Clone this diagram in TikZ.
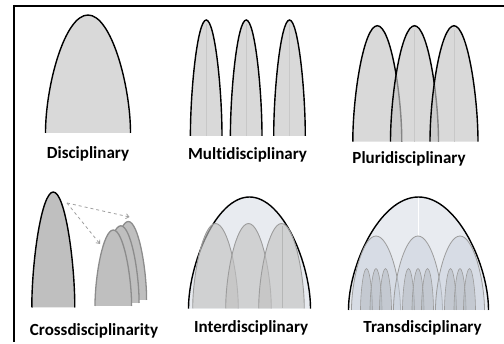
\documentclass[tikz,border=0pt]{standalone}
\usepackage{fontspec}
\setmainfont{Carlito}[Ligatures=NoCommon]
\usetikzlibrary{arrows.meta}
\definecolor{discfill}{HTML}{D9D9D9}
\definecolor{plurifill}{HTML}{C6C6C6}
\definecolor{crossfill}{HTML}{BFBFBF}
\definecolor{crossline}{HTML}{8C8C8C}
\definecolor{bigfill}{HTML}{E8EBF0}
\definecolor{innerfill}{HTML}{C2C2C2}
\definecolor{innerline}{HTML}{9C9C9C}
\definecolor{midfill}{rgb}{0.78,0.81,0.86}
\definecolor{smallfill}{rgb}{0.70,0.72,0.75}
\definecolor{centerline}{HTML}{C8C8C8}
\newcommand\archshape[5][]{%
  \draw[#1] ({#2-#3},#5) .. controls ({#2-#3},{#5-0.4*(#5-#4)}) and ({#2-0.55*#3},#4) .. (#2,#4)
    .. controls ({#2+0.55*#3},#4) and ({#2+#3},{#5-0.4*(#5-#4)}) .. ({#2+#3},#5);}
\tikzset{
  lbl/.style={anchor=base, font=\fontsize{17}{20}\selectfont\bfseries, inner sep=0pt},
  blackarch/.style={draw=black, line width=1.4pt, fill=discfill},
  pluriarch/.style={draw=black, line width=1.4pt, fill=plurifill, fill opacity=0.667},
  crossarch/.style={draw=crossline, line width=1.3pt, fill=crossfill},
  bigarch/.style={draw=black, line width=1.4pt, fill=bigfill},
  innerarch/.style={draw=innerline, line width=0.9pt, fill=innerfill, fill opacity=0.63},
  midarch/.style={draw=innerline, line width=0.8pt, fill=midfill, fill opacity=0.5},
  smallarch/.style={draw=innerline, line width=0.6pt, fill=smallfill, fill opacity=0.5},
  faint/.style={draw=centerline, line width=0.6pt},
  dasharrow/.style={draw=gray!75, dashed, line width=0.8pt, -{Straight Barb[length=3pt,width=5pt]}},
}
\begin{document}
\begin{tikzpicture}[x=1pt,y=-1pt]
\useasboundingbox (0,0) rectangle (504,344);
% frame
\draw[line width=2pt] (13,6) -- (504,6);
\draw[line width=2pt] (14,5) -- (14,342);

% Disciplinary
\archshape[blackarch]{88}{42.5}{15}{133}
\node[lbl] (disc) at (88,159) {Disciplinary};

% Multidisciplinary
\foreach \c in {206.2,246.2,289.5}{
  \archshape[blackarch]{\c}{15.8}{20}{136}
  \draw[faint] (\c,24) -- (\c,136);
}
\node[lbl] (multi) at (247.5,160) {Multidisciplinary};

% Pluridisciplinary
\archshape[pluriarch]{377.3}{24.5}{25.7}{141.7}
\archshape[pluriarch]{414.5}{24}{25.7}{141.7}
\draw[faint] (414.5,30) -- (414.5,141.7);
\archshape[pluriarch]{454}{24}{25.7}{141.7}
\draw[faint] (454,30) -- (454,141.7);
\node[lbl] (pluri) at (409,164) {Pluridisciplinary};

% Crossdisciplinarity
\archshape[blackarch, fill=crossfill]{53.3}{21.5}{192}{307.5}
\archshape[crossarch]{128.3}{18.3}{221.5}{300}
\archshape[crossarch]{120.8}{18.3}{225.8}{303}
\archshape[crossarch]{113.3}{18.3}{230}{306}
\coordinate (src) at (67,203);
\coordinate (tgtA) at (129.5,217);
\coordinate (tgtB) at (100,244);
\draw[dasharrow] (src) -- (tgtA);
\draw[dasharrow] (src) -- (tgtB);
\node[lbl] (cross) at (94,336) {Crossdisciplinarity};

% Interdisciplinary
\archshape[bigarch]{249.5}{61}{197}{308.7}
\archshape[innerarch]{215.5}{22.8}{223.5}{308.5}
\archshape[innerarch]{248.5}{22.8}{223.5}{308.5}
\archshape[innerarch]{281.5}{22.8}{223.5}{308.5}
\draw[draw=innerline, line width=0.4pt, opacity=0.5] (282.5,226) -- (282.5,308.5);
\node[lbl] (inter) at (251.2,333) {Interdisciplinary};

% Transdisciplinary
\archshape[bigarch]{418.5}{70}{197}{310}
\draw[white, line width=0.8pt] (418.5,198) -- (418.5,236);
\foreach \c in {376,418,460}{
  \archshape[midarch]{\c}{24.5}{236}{310}
}
\foreach \c in {376,418,460}{
  \foreach \d in {-9.5,0,9.5}{
    \archshape[smallarch]{\c+\d}{6}{268.5}{310}
  }
}
\node[lbl] (trans) at (422.5,333) {Transdisciplinary};
\end{tikzpicture}
\end{document}
